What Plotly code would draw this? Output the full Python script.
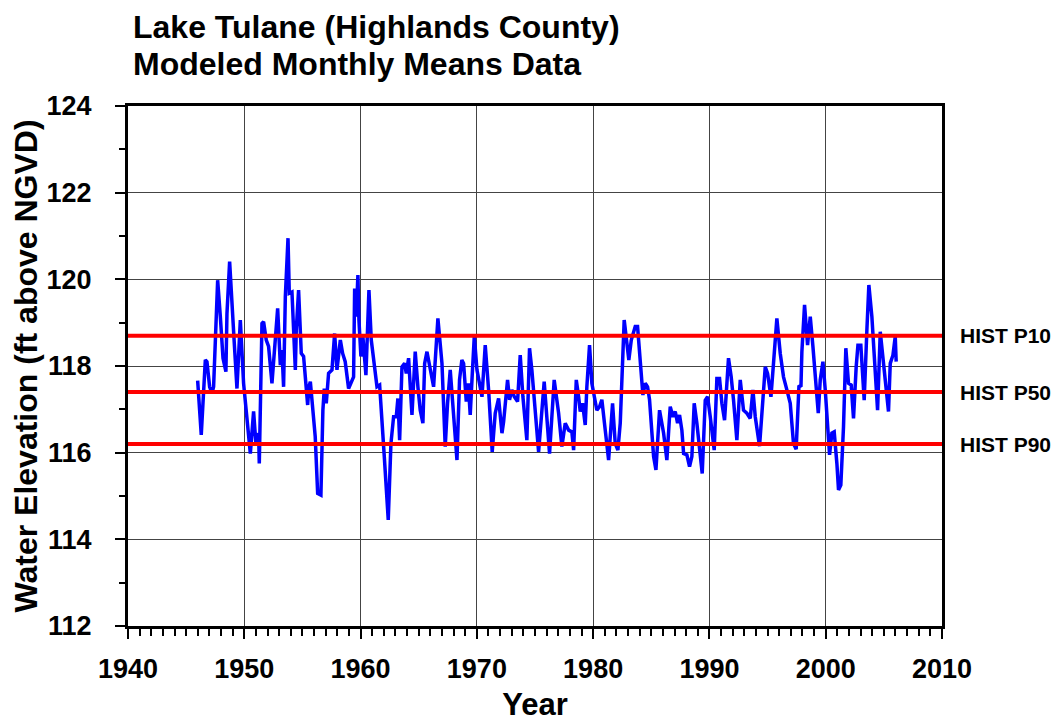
import plotly.graph_objects as go

# Decimal year and modeled monthly mean lake stage (ft above NGVD)
year = [
    1945.99, 1946.30, 1946.65, 1946.79, 1947.02, 1947.22, 1947.36, 1947.71, 1947.94, 1948.17,
    1948.42, 1948.51, 1948.74, 1948.94, 1949.14, 1949.37, 1949.66, 1949.94, 1950.29, 1950.52,
    1950.80, 1951.00, 1951.23, 1951.29, 1951.52, 1951.66, 1951.89, 1952.09, 1952.38, 1952.58,
    1952.87, 1953.10, 1953.24, 1953.38, 1953.53, 1953.76, 1953.87, 1954.10, 1954.39, 1954.47,
    1954.67, 1954.90, 1955.10, 1955.45, 1955.56, 1955.68, 1956.10, 1956.31, 1956.59, 1956.76,
    1956.88, 1957.05, 1957.25, 1957.54, 1957.77, 1957.97, 1958.26, 1958.46, 1958.68, 1958.97,
    1959.17, 1959.40, 1959.49, 1959.63, 1959.77, 1959.86, 1960.03, 1960.20, 1960.46, 1960.72,
    1960.92, 1961.18, 1961.41, 1961.64, 1961.84, 1962.04, 1962.38, 1962.61, 1962.84, 1963.07,
    1963.21, 1963.36, 1963.56, 1963.79, 1963.93, 1964.13, 1964.42, 1964.70, 1964.93, 1965.13,
    1965.36, 1965.51, 1965.71, 1965.91, 1966.28, 1966.65, 1967.00, 1967.28, 1967.48, 1967.71,
    1967.94, 1968.29, 1968.51, 1968.71, 1968.86, 1969.09, 1969.26, 1969.43, 1969.58, 1969.78,
    1970.01, 1970.44, 1970.72, 1971.01, 1971.32, 1971.58, 1971.87, 1972.16, 1972.30, 1972.64,
    1972.81, 1973.01, 1973.22, 1973.50, 1973.73, 1973.96, 1974.30, 1974.53, 1974.73, 1975.02,
    1975.31, 1975.79, 1976.02, 1976.25, 1976.65, 1977.03, 1977.31, 1977.60, 1977.89, 1978.17,
    1978.32, 1978.55, 1978.75, 1978.89, 1979.09, 1979.32, 1979.46, 1979.69, 1979.89, 1980.12,
    1980.32, 1980.55, 1980.75, 1981.04, 1981.33, 1981.67, 1981.90, 1982.13, 1982.33, 1982.67,
    1982.90, 1983.07, 1983.28, 1983.62, 1983.82, 1984.05, 1984.28, 1984.48, 1984.68, 1984.85,
    1985.20, 1985.40, 1985.71, 1986.06, 1986.34, 1986.57, 1986.63, 1986.86, 1987.06, 1987.26,
    1987.43, 1987.63, 1987.78, 1988.06, 1988.29, 1988.49, 1988.69, 1988.92, 1989.15, 1989.38,
    1989.64, 1989.84, 1990.07, 1990.41, 1990.64, 1990.87, 1991.07, 1991.30, 1991.64, 1991.87,
    1992.07, 1992.36, 1992.65, 1992.93, 1993.22, 1993.51, 1993.74, 1993.94, 1994.31, 1994.60,
    1994.80, 1995.00, 1995.29, 1995.51, 1995.80, 1996.09, 1996.37, 1996.66, 1996.95, 1997.23,
    1997.46, 1997.70, 1997.87, 1997.95, 1998.18, 1998.44, 1998.67, 1998.90, 1999.10, 1999.36,
    1999.53, 1999.76, 1999.96, 2000.16, 2000.33, 2000.53, 2000.73, 2000.96, 2001.10, 2001.30,
    2001.53, 2001.73, 2001.96, 2002.19, 2002.39, 2002.62, 2002.77, 2003.02, 2003.31, 2003.54,
    2003.71, 2003.97, 2004.26, 2004.46, 2004.69, 2004.92, 2005.17, 2005.40, 2005.55, 2005.78,
    2005.98, 2006.06,
]
elevation = [
    117.66, 116.41, 118.14, 118.10, 117.52, 117.37, 117.52, 119.98, 119.14, 118.18,
    117.87, 119.21, 120.41, 119.60, 118.52, 117.48, 119.06, 117.60, 116.60, 115.98,
    116.95, 116.21, 116.45, 115.75, 118.98, 119.02, 118.60, 118.45, 117.60, 118.22,
    119.33, 118.02, 118.37, 117.52, 119.60, 120.95, 119.68, 119.71, 117.91, 118.83,
    119.75, 118.29, 118.22, 117.10, 117.52, 117.64, 116.37, 115.06, 115.02, 116.98,
    117.48, 117.14, 117.83, 117.91, 118.75, 117.91, 118.60, 118.29, 118.10, 117.48,
    117.60, 117.75, 119.79, 119.14, 120.10, 119.06, 118.22, 118.68, 117.79, 119.75,
    118.60, 118.06, 117.52, 117.56, 116.83, 115.91, 114.45, 116.21, 116.83, 116.83,
    117.25, 116.29, 117.98, 118.06, 117.83, 118.18, 116.87, 118.33, 117.52, 116.98,
    116.68, 118.06, 118.33, 118.02, 117.52, 119.10, 118.06, 116.14, 117.14, 117.91,
    117.14, 115.83, 117.68, 118.14, 118.06, 117.18, 117.60, 116.87, 117.68, 118.69,
    117.91, 117.29, 118.48, 117.45, 116.02, 116.91, 117.25, 116.45, 116.71, 117.68,
    117.22, 117.45, 117.29, 117.18, 118.25, 117.29, 116.29, 118.41, 117.91, 116.91,
    116.02, 117.64, 116.83, 115.98, 117.68, 116.91, 116.14, 116.68, 116.52, 116.48,
    116.06, 117.68, 117.29, 116.95, 117.14, 116.64, 117.52, 118.48, 117.60, 117.29,
    116.98, 117.06, 117.22, 116.52, 115.83, 117.14, 116.21, 116.06, 116.68, 119.06,
    118.45, 118.14, 118.60, 118.91, 118.91, 118.14, 117.33, 117.60, 117.52, 117.22,
    115.91, 115.60, 116.98, 116.45, 115.83, 116.83, 117.06, 116.83, 116.95, 116.68,
    116.87, 116.52, 115.98, 115.95, 115.68, 115.91, 117.14, 116.68, 116.10, 115.52,
    117.21, 117.29, 116.83, 116.06, 117.71, 117.71, 117.14, 116.75, 118.18, 117.75,
    117.22, 116.29, 117.68, 116.98, 116.91, 116.79, 117.45, 116.83, 116.15, 117.29,
    117.98, 117.83, 117.29, 118.06, 119.10, 118.29, 117.75, 117.45, 117.14, 116.21,
    116.08, 117.55, 117.52, 118.33, 119.41, 118.48, 119.14, 118.45, 117.68, 116.91,
    117.68, 118.10, 117.45, 116.68, 115.95, 116.45, 116.48, 115.75, 115.14, 115.25,
    116.60, 118.41, 117.60, 117.56, 116.79, 117.98, 118.48, 118.48, 117.21, 118.83,
    119.87, 119.14, 117.91, 116.98, 118.79, 118.22, 117.45, 116.95, 118.06, 118.25,
    118.68, 118.10,
]

# Historical percentile reference levels
hist_labels = ["HIST P10", "HIST P50", "HIST P90"]
hist_values = [118.7, 117.4, 116.2]

title_lines = ["Lake Tulane (Highlands County)", "Modeled Monthly Means Data"]

x_ticks = [1940, 1950, 1960, 1970, 1980, 1990, 2000, 2010]
y_ticks = [112, 114, 116, 118, 120, 122, 124]

FONT = "Arial, 'Liberation Sans', sans-serif"
FIG_W, FIG_H = 1052, 714
M_L, M_R, M_T, M_B = 120, 118, 98, 96
PLOT_W = FIG_W - M_L - M_R
PLOT_H = FIG_H - M_T - M_B

fig = go.Figure()
fig.add_trace(go.Scatter(
    x=year, y=elevation, mode="lines",
    line=dict(color="#0000FF", width=3.5),
    showlegend=False, hoverinfo="x+y",
))

for lab, val in zip(hist_labels, hist_values):
    fig.add_shape(type="line", xref="paper", x0=0, x1=1, yref="y", y0=val, y1=val,
                  line=dict(color="#FF0000", width=4), layer="above")
    fig.add_annotation(xref="paper", x=1 + 16 / PLOT_W, xanchor="left", yref="y", y=val,
                       yanchor="middle", text=lab, showarrow=False,
                       font=dict(family=FONT, size=21, color="black", weight="bold"))

# Two-line title placed above the plot area
for i, line in enumerate(title_lines):
    offset_above = 79 - 37 * i
    fig.add_annotation(xref="paper", x=3 / PLOT_W, xanchor="left",
                       yref="paper", y=1 + offset_above / PLOT_H, yanchor="middle",
                       text=line, showarrow=False,
                       font=dict(family=FONT, size=32, color="black", weight="bold"))

axis_common = dict(
    showline=True, linecolor="black", linewidth=3, mirror=True,
    ticks="outside", ticklen=10, tickwidth=2, tickcolor="black",
    showgrid=True, gridcolor="#444444", gridwidth=1, zeroline=False,
    automargin=False,
    tickfont=dict(family=FONT, size=27, color="black", weight="bold"),
)

fig.update_layout(
    width=FIG_W, height=FIG_H,
    paper_bgcolor="white", plot_bgcolor="white",
    margin=dict(l=M_L, r=M_R, t=M_T, b=M_B),
    xaxis=dict(
        range=[1940, 2010], tickvals=x_ticks, ticklabelstandoff=7, **axis_common,
        minor=dict(dtick=1, ticks="outside", ticklen=7, tickwidth=1.5, tickcolor="black", showgrid=False),
        title=dict(text="Year", standoff=18,
                   font=dict(family=FONT, size=31, color="black", weight="bold")),
    ),
    yaxis=dict(
        range=[112, 124], tickvals=y_ticks, ticklabelstandoff=18, **axis_common,
        minor=dict(dtick=1, ticks="outside", ticklen=6, tickwidth=1.5, tickcolor="black", showgrid=False),
        title=dict(text="Water Elevation (ft above NGVD)", standoff=6,
                   font=dict(family=FONT, size=32, color="black", weight="bold")),
    ),
)

fig.write_html("out.html")
